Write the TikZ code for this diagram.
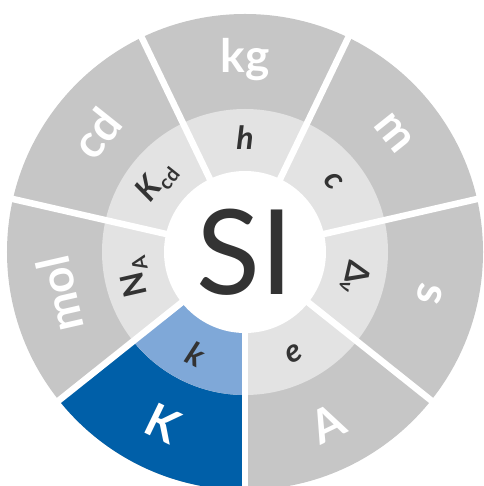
\documentclass[tikz,border=0pt]{standalone}
\usepackage{fontspec}
\setmainfont{Lato}
\usepackage{tikz}
\usetikzlibrary{positioning}
\definecolor{ringOuter}{RGB}{198, 198, 198}
\definecolor{ringInner}{RGB}{227, 227, 227}
\definecolor{kelvinDark}{RGB}{0, 95, 168}
\definecolor{kelvinLight}{RGB}{127, 168, 216}
\definecolor{textDark}{RGB}{51, 51, 51}
\tikzset{
    unit_label/.style={
        text=white,
        font=\fontsize{46}{46}\selectfont\bfseries,
        inner sep=0pt
    },
    const_label/.style={
        text=textDark,
        font=\fontsize{32}{32}\selectfont\bfseries\itshape,
        inner sep=0pt
    },
    sector_gap/.style={
        draw=white,
        line width=6.5pt
    }
}
\newcommand{\constsub}[1]{\textsubscript{\fontsize{20}{20}\selectfont\upshape #1}}

\begin{document}
\begin{tikzpicture}[x=1pt, y=1pt]
    \useasboundingbox (-245,-234) rectangle (238,252);
    \clip (-245,-234) rectangle (238,252);
    \coordinate (O) at (0,0);

    \fill[ringOuter] (O) circle[radius=238];
    \fill[kelvinDark] (O) -- (-90:238) arc[start angle=-90, end angle=-141.43, radius=238] -- cycle;
    \fill[ringInner] (O) circle[radius=143];
    \fill[kelvinLight] (O) -- (-90:143) arc[start angle=-90, end angle=-141.43, radius=143] -- cycle;

    \draw[sector_gap] (O) -- (115.71:250);
    \draw[sector_gap] (O) -- (64.29:250);
    \draw[sector_gap] (O) -- (12.86:250);
    \draw[sector_gap] (O) -- (-38.57:250);
    \draw[sector_gap] (O) -- (-90:250);
    \draw[sector_gap] (O) -- (-141.43:250);
    \draw[sector_gap] (O) -- (167.14:250);
    \fill[white] (O) circle[radius=81];

    \node[text=textDark, font=\fontsize{118}{118}\selectfont, inner sep=0pt] (si) at (O) {SI};

    \node[unit_label] (u_kg) at (90:192) {kg};
    \node[unit_label, rotate=-51.43] (u_m) at (38.57:190) {m};
    \node[unit_label, rotate=-102.86] (u_s) at (-12.86:190) {s};
    \node[unit_label, rotate=25.71] (u_A) at (-64.29:190) {A};
    \node[unit_label, rotate=-25.71] (u_K) at (-115.71:190) {K};
    \node[unit_label, rotate=102.86] (u_mol) at (192.86:190) {mol};
    \node[unit_label, rotate=51.43] (u_cd) at (141.43:190) {cd};

    \node[const_label] (c_h) at (90:114) {h};
    \node[const_label, rotate=-51.43] (c_c) at (38.57:113) {c};
    \node[const_label, rotate=-102.86] (c_dnu) at (-12.86:113) {\upshape Δ\constsub{\itshape ν}};
    \node[const_label, rotate=25.71] (c_e) at (-64.29:113) {e};
    \node[const_label, rotate=-25.71] (c_k) at (-115.71:113) {k};
    \node[const_label, rotate=102.86] (c_NA) at (192.86:113) {\upshape N\constsub{A}};
    \node[const_label, rotate=51.43] (c_Kcd) at (141.43:113) {K\constsub{cd}};
\end{tikzpicture}
\end{document}
